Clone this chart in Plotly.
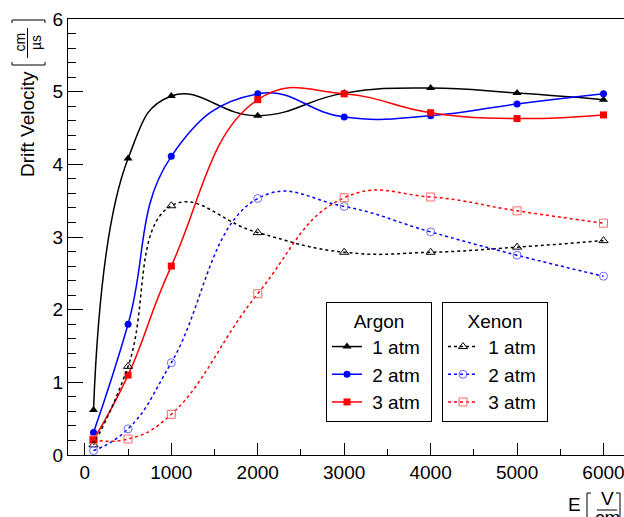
import plotly.graph_objects as go

# ---- data ----
E = [100, 500, 1000, 2000, 3000, 4000, 5000, 6000]
argon_1atm = [0.62, 4.08, 4.94, 4.67, 4.98, 5.05, 4.98, 4.89]
argon_2atm = [0.31, 1.80, 4.11, 4.97, 4.65, 4.67, 4.83, 4.97]
argon_3atm = [0.21, 1.10, 2.60, 4.89, 4.97, 4.71, 4.63, 4.68]
xenon_1atm = [0.14, 1.22, 3.43, 3.06, 2.79, 2.79, 2.86, 2.95]
xenon_2atm = [0.06, 0.36, 1.27, 3.53, 3.42, 3.07, 2.75, 2.46]
xenon_3atm = [0.21, 0.22, 0.56, 2.22, 3.54, 3.55, 3.36, 3.19]
x_ticks = [0, 1000, 2000, 3000, 4000, 5000, 6000]
y_ticks = [0, 1, 2, 3, 4, 5, 6]

W, H = 624, 517
L, R, T, B = 68, 0, 19, 62
FONT = "Liberation Sans, Arial, sans-serif"

def px(x):
    return (x - L) / (W - L - R)

def py(y):
    return (H - B - y) / (H - T - B)

fig = go.Figure()

argon = [("1 atm", argon_1atm, "black", "triangle-up", 8),
         ("2 atm", argon_2atm, "#0000ff", "circle", 7),
         ("3 atm", argon_3atm, "#ff0000", "square", 7)]
xenon = [("1 atm", xenon_1atm, "black", "triangle-up-open", 8),
         ("2 atm", xenon_2atm, "#6a6aff", "circle-open", 8),
         ("3 atm", xenon_3atm, "#ff6a6a", "square-open", 8)]
xenon_line = ["black", "#0000ff", "#ff0000"]

for name, vals, col, sym, sz in argon:
    fig.add_trace(go.Scatter(
        x=E, y=vals, mode="lines+markers", name="&nbsp;" + name + "&nbsp;",
        line=dict(color=col, width=1.5, shape="spline", smoothing=1.3),
        marker=dict(symbol=sym, size=sz, color=col),
        legend="legend"))

for (name, vals, col, sym, sz), lc in zip(xenon, xenon_line):
    fig.add_trace(go.Scatter(
        x=E, y=vals, mode="lines+markers", name="&nbsp;" + name + "&nbsp;",
        line=dict(color=lc, width=1.5, dash="dot", shape="spline", smoothing=1.3),
        marker=dict(symbol=sym, size=sz, color=col, line=dict(width=1, color=col)),
        legend="legend2"))

legend_common = dict(
    bgcolor="white", bordercolor="black", borderwidth=1,
    font=dict(family=FONT, size=19, color="black"),
    xanchor="left", yanchor="top", itemwidth=30,
)

shapes = []
annotations = []

def ann(x, y, text, size=19, angle=0, yanchor="middle"):
    annotations.append(dict(xref="paper", yref="paper", x=px(x), y=py(y),
                            xanchor="center", yanchor=yanchor, borderpad=0,
                            text=text, textangle=angle, showarrow=False,
                            font=dict(family=FONT, size=size, color="black")))

def path(pts):
    d = "M " + " L ".join(f"{px(a)},{py(b)}" for a, b in pts)
    shapes.append(dict(type="path", xref="paper", yref="paper", path=d,
                       line=dict(color="black", width=1)))

# y title
ann(27, 124, "Drift Velocity", 19, -90)
ann(19, 42.5, "cm", 14, -90)
ann(35.5, 42.5, "µs", 14, -90)
path([(27.5, 28), (27.5, 58)])
path([(12, 62), (12, 65), (45, 65), (45, 62)])
path([(12, 23), (12, 20), (45, 20), (45, 23)])

# x title
ann(574, 504, "E", 19)
ann(607, 510, "V", 19, yanchor="bottom")
ann(607, 506, "cm", 19, yanchor="top")
path([(597, 510), (617, 510)])
path([(591, 493), (587, 493), (587, 530)])
path([(616, 493), (620, 493), (620, 530)])

fig.update_layout(
    width=W, height=H,
    margin=dict(l=L, r=R, t=T, b=B, pad=0),
    paper_bgcolor="white", plot_bgcolor="white",
    font=dict(family=FONT, size=19, color="black"),
    showlegend=True,
    legend=dict(x=px(326), y=py(302),
                title=dict(text="Argon", side="top center",
                           font=dict(family=FONT, size=19)),
                **legend_common),
    legend2=dict(x=px(442), y=py(302),
                 title=dict(text="Xenon", side="top center",
                            font=dict(family=FONT, size=19)),
                 **legend_common),
    shapes=shapes,
    annotations=annotations,
    xaxis=dict(range=[-195, 6237], tickvals=x_ticks, ticks="inside",
               ticklen=12, tickcolor="black", tickwidth=1,
               minor=dict(dtick=500, ticks="inside", ticklen=6, tickcolor="black"),
               showline=True, linecolor="black", linewidth=1, mirror=True,
               showgrid=False, zeroline=False, ticklabeloverflow="allow",
               tickfont=dict(family=FONT, size=19, color="black")),
    yaxis=dict(range=[0, 6], tickvals=y_ticks, ticks="inside",
               ticklen=15, tickcolor="black", tickwidth=1,
               minor=dict(dtick=0.2, ticks="inside", ticklen=8, tickcolor="black"),
               showline=True, linecolor="black", linewidth=1,
               showgrid=False, zeroline=False,
               tickfont=dict(family=FONT, size=19, color="black")),
)

fig.write_html("out.html")
